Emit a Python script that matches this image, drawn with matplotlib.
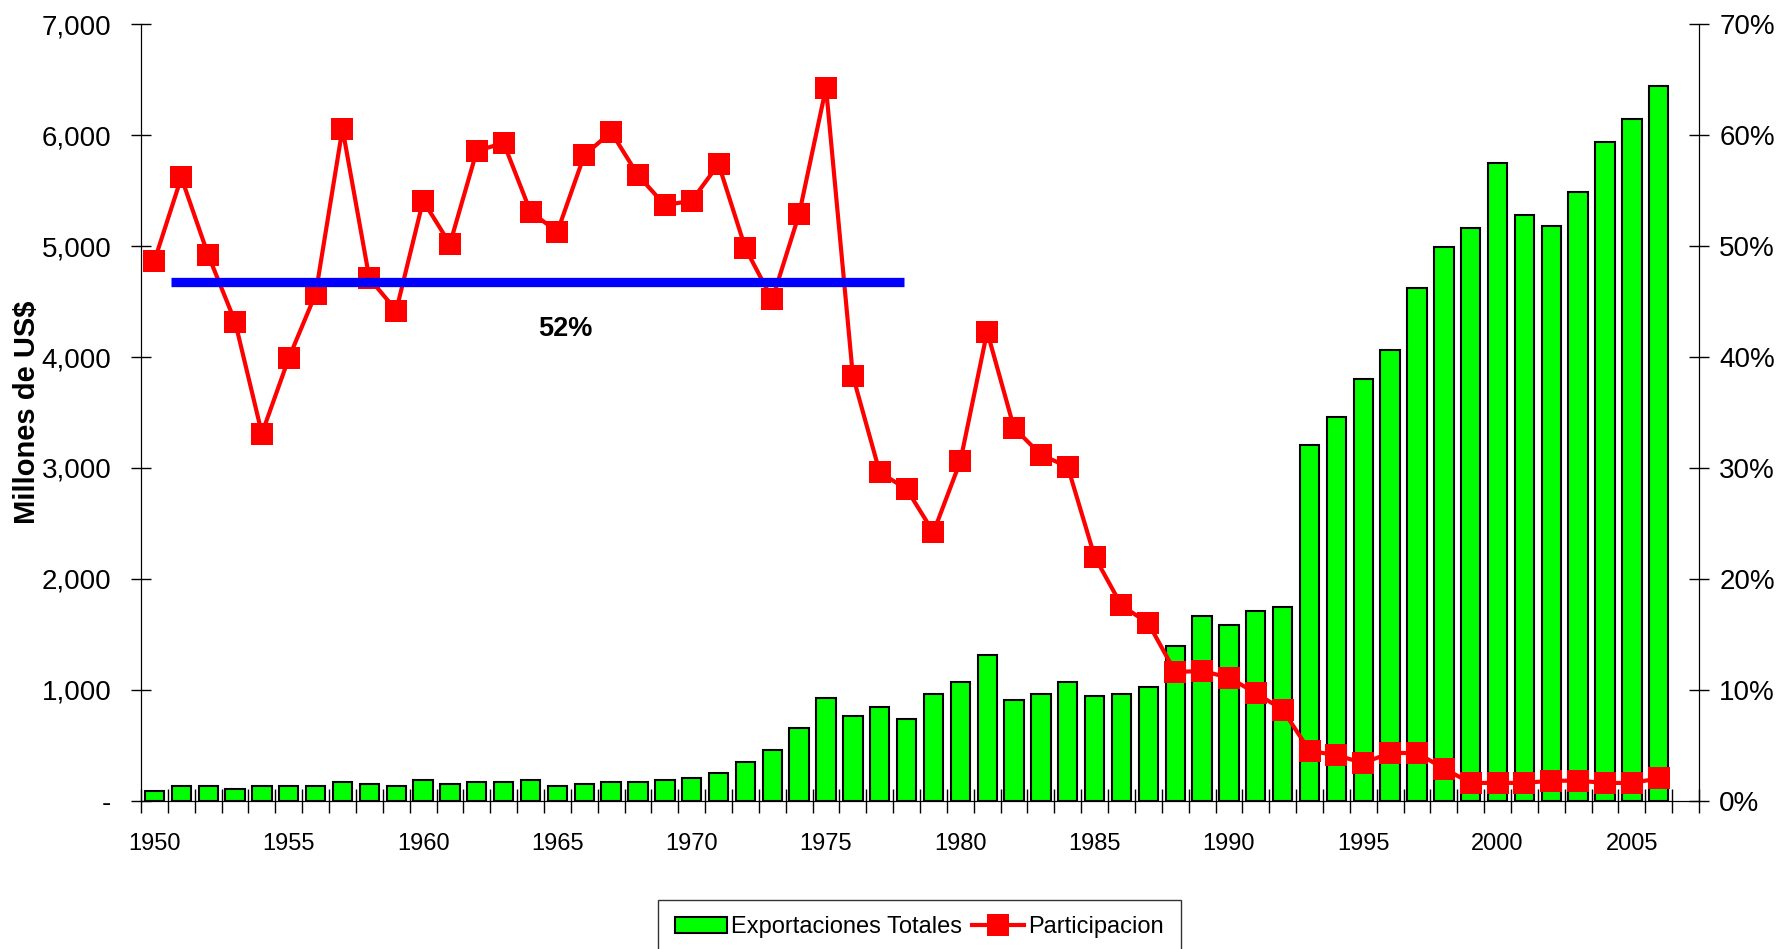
import numpy as np
import matplotlib
matplotlib.use('Agg')
import matplotlib.pyplot as plt
from matplotlib import font_manager
from matplotlib.ticker import FuncFormatter, FixedLocator

# axis slots run 1950..2007, the last one is left empty
years = list(range(1950, 2008))
data_years = list(range(1950, 2007))

# Exportaciones Totales (millones de US$)
exportaciones = [
    83, 128, 128, 104, 128, 128, 128, 167, 149, 128,
    188, 149, 167, 167, 188, 128, 149, 167, 167, 188,
    208, 247, 348, 455, 655, 925, 763, 847, 739, 964,
    1069, 1315, 904, 964, 1066, 943, 964, 1027, 1393, 1664,
    1580, 1706, 1745, 3210, 3460, 3800, 4060, 4620, 4990, 5160,
    5750, 5280, 5180, 5490, 5940, 6143, 6446,
]

# Participacion (%)
participacion = [
    48.7, 56.2, 49.2, 43.2, 33.1, 39.9, 45.7, 60.6, 47.1, 44.2,
    54.1, 50.2, 58.6, 59.3, 53.1, 51.3, 58.2, 60.3, 56.4, 53.7,
    54.1, 57.4, 49.8, 45.2, 52.9, 64.3, 38.3, 29.6, 28.1, 24.2,
    30.6, 42.3, 33.6, 31.2, 30.1, 22.0, 17.6, 16.0, 11.6, 11.7,
    11.1, 9.7, 8.2, 4.5, 4.1, 3.4, 4.3, 4.3, 2.9, 1.6,
    1.6, 1.6, 1.8, 1.8, 1.6, 1.6, 2.0,
]

# promedio line and its label
promedio_nivel = 46.8
promedio_desde = 1950.6
promedio_hasta = 1977.9
promedio_texto = '52%'
promedio_texto_pos = (1965.3, 42.5)

y_ticks = [0, 1000, 2000, 3000, 4000, 5000, 6000, 7000]
pct_ticks = [0, 10, 20, 30, 40, 50, 60, 70]
label_years = list(range(1950, 2006, 5))

WIDE = ['Liberation Sans', 'DejaVu Sans']
# the original uses Arial Narrow; use it if a narrow face is around,
# otherwise plain Liberation Sans a bit smaller
installed = set(f.name for f in font_manager.fontManager.ttflist)
if 'Liberation Sans Narrow' in installed:
    NARROW = ['Liberation Sans Narrow', 'Liberation Sans', 'DejaVu Sans']
    nscale = 1.0
else:
    NARROW = WIDE
    nscale = 0.85


def miles(v, pos):
    if v == 0:
        return '-'
    return '{:,.0f}'.format(v)


fig = plt.figure(figsize=(17.83, 9.49), dpi=100)
ax = fig.add_axes([0.0791, 0.1563, 0.9529 - 0.0791, 0.9743 - 0.1563])
ax2 = ax.twinx()

bars = ax.bar(data_years, exportaciones, width=0.72, color='#00FF00',
              edgecolor='black', linewidth=1.5, zorder=2)

line, = ax2.plot(data_years, participacion, color='#FF0000', lw=3.0,
                 marker='s', markersize=16, markeredgewidth=0, zorder=3)
ax2.hlines(promedio_nivel, promedio_desde, promedio_hasta, color='#0000FF',
           lw=6.7, zorder=5)
ax2.text(promedio_texto_pos[0], promedio_texto_pos[1], promedio_texto,
         ha='center', va='center', fontsize=23 * nscale, fontweight='bold',
         family=NARROW, zorder=6)

ax.set_xlim(years[0] - 0.5, years[-1] + 0.5)
ax.set_ylim(0, 7000)
ax2.set_ylim(0, 70)

ax.spines['top'].set_visible(False)
ax2.spines['top'].set_visible(False)

# x axis: ticks between categories, labels every 5 years
ax.xaxis.set_major_locator(FixedLocator(label_years))
ax.xaxis.set_minor_locator(FixedLocator(np.arange(years[0] - 0.5, years[-1] + 1.0, 1.0)))
ax.tick_params(axis='x', which='major', length=0, pad=23)
ax.tick_params(axis='x', which='minor', direction='inout', length=17, width=1)
for lbl in ax.get_xticklabels():
    lbl.set_family(NARROW)
    lbl.set_fontsize(20 * nscale)

ax.yaxis.set_major_locator(FixedLocator(y_ticks))
ax.yaxis.set_major_formatter(FuncFormatter(miles))
ax.tick_params(axis='y', direction='inout', length=15, width=1, pad=14)
for lbl in ax.get_yticklabels():
    lbl.set_family(WIDE)
    lbl.set_fontsize(20)

ax2.yaxis.set_major_locator(FixedLocator(pct_ticks))
ax2.yaxis.set_major_formatter(FuncFormatter(lambda v, p: '{:.0f}%'.format(v)))
ax2.tick_params(axis='y', direction='inout', length=15, width=1, pad=7)
for lbl in ax2.get_yticklabels():
    lbl.set_family(WIDE)
    lbl.set_fontsize(20)

ax.set_ylabel('Millones de US$', family=NARROW, fontsize=21, fontweight='bold')
ax.yaxis.set_label_coords(-0.064, 0.5)

leg = fig.legend([bars, line], ['Exportaciones Totales', 'Participacion'],
                 loc='upper center', bbox_to_anchor=(0.5157, 0.0517), ncol=2,
                 frameon=True, fancybox=False, edgecolor='black',
                 prop={'family': NARROW, 'size': 20 * nscale},
                 handlelength=2.2, handletextpad=0.2, columnspacing=0.4,
                 borderpad=0.7, borderaxespad=0)
leg.get_frame().set_linewidth(1.0)

fig.savefig('out.png', dpi=100)
